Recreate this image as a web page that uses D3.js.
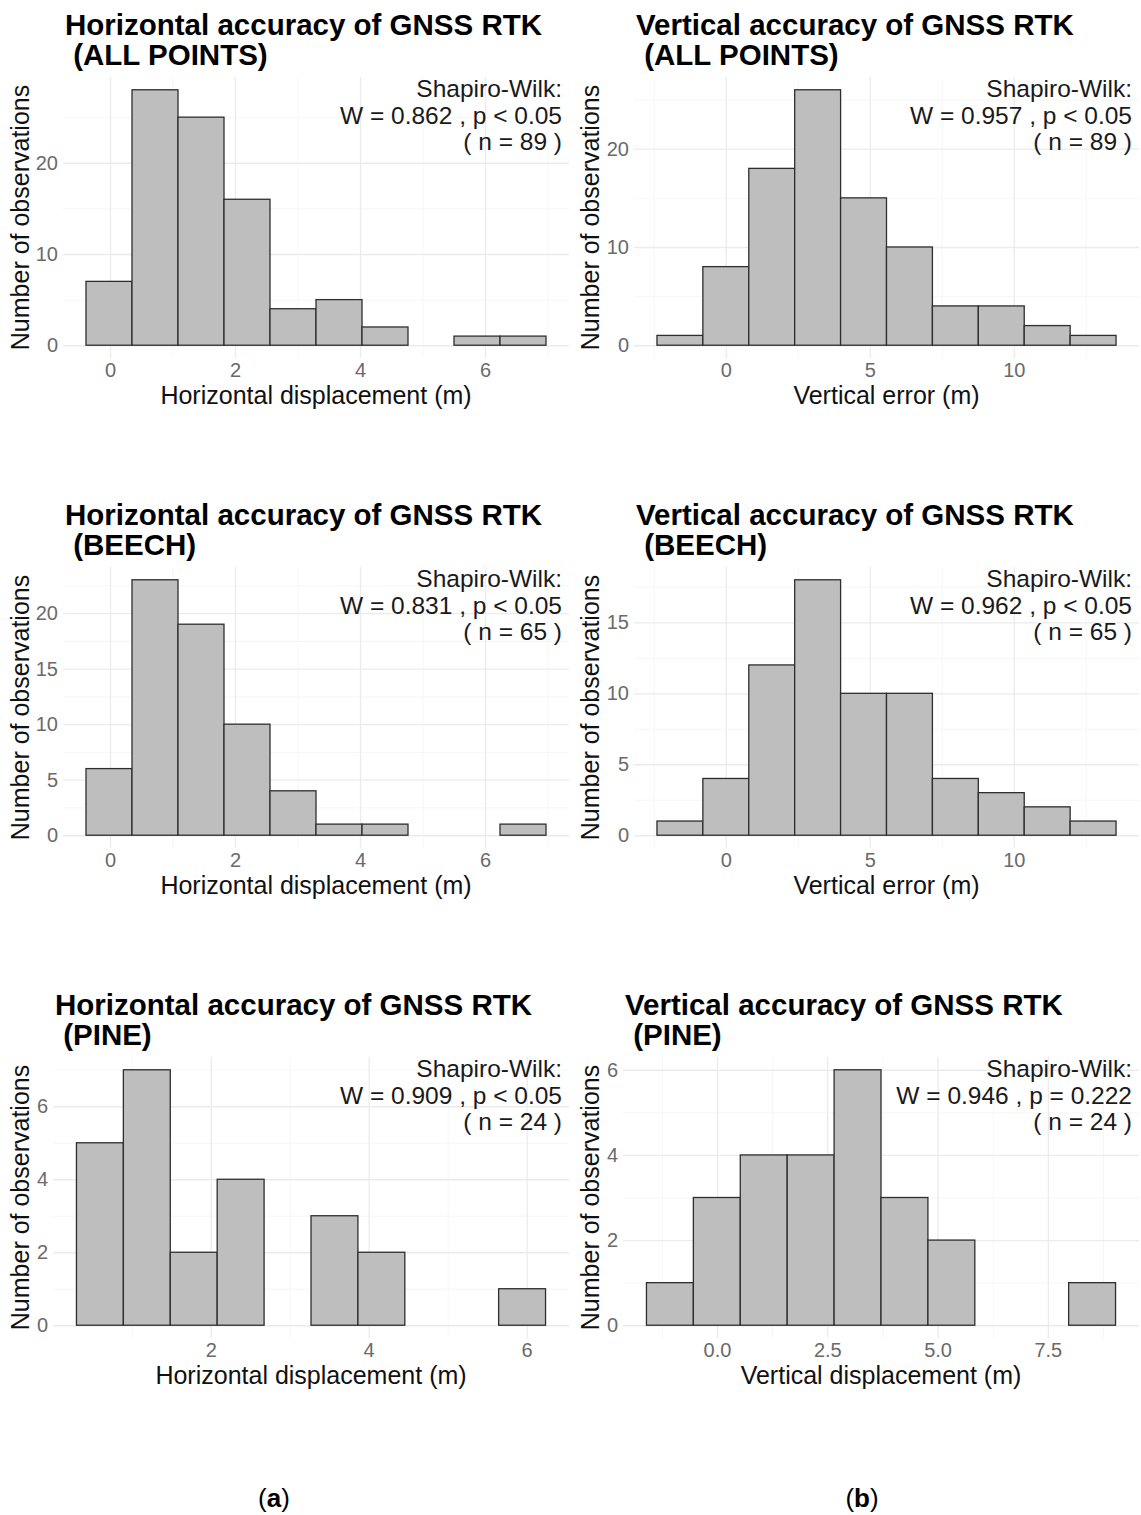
<!DOCTYPE html>
<html>
<head>
<meta charset="utf-8">
<script src="https://cdn.jsdelivr.net/npm/d3@7"></script>
<style>
  body { margin: 0; background: #fff; }
  text { font-family: "Liberation Sans", Arial, Helvetica, sans-serif; }
</style>
</head>
<body>
<svg id="chart" width="1141" height="1515"></svg>
<script>
// counts per histogram bin (10 bins each)
const hAllCounts   = [7, 28, 25, 16, 4, 5, 2, 0, 1, 1];
const vAllCounts   = [1, 8, 18, 26, 15, 10, 4, 4, 2, 1];
const hBeechCounts = [6, 23, 19, 10, 4, 1, 1, 0, 0, 1];
const vBeechCounts = [1, 4, 12, 18, 10, 10, 4, 3, 2, 1];
const hPineCounts  = [5, 7, 2, 4, 0, 3, 2, 0, 0, 1];
const vPineCounts  = [1, 3, 4, 4, 6, 3, 2, 0, 0, 1];

// first bin edge and bin width (m)
const hAllBins   = [-0.384, 0.736];
const vAllBins   = [-2.39, 1.594];
const hBeechBins = [-0.384, 0.736];
const vBeechBins = [-2.39, 1.594];
const hPineBins  = [0.30, 0.594];
const vPineBins  = [-1.60, 1.0635];

// tick labels
const hXTicks = [0, 2, 4, 6];
const vXTicks = [0, 5, 10];
const hPineXTicks = [2, 4, 6];
const vPineXTicks = [0, 2.5, 5, 7.5];
const yTicksAll = [0, 10, 20];
const yTicksHBeech = [0, 5, 10, 15, 20];
const yTicksVBeech = [0, 5, 10, 15];
const yTicksPine = [0, 2, 4, 6];

// texts
const groups = ["ALL POINTS", "BEECH", "PINE"];
const wValues = ["0.862", "0.957", "0.831", "0.962", "0.909", "0.946"];
const pValues = ["p < 0.05", "p < 0.05", "p < 0.05", "p < 0.05", "p < 0.05", "p = 0.222"];
const nValues = [89, 89, 65, 65, 24, 24];

const svg = d3.select("#chart");
svg.append("rect").attr("width", 1141).attr("height", 1515).attr("fill", "#fff");

const panels = [
  {counts: hAllCounts, bins: hAllBins, xTicks: hXTicks, yTicks: yTicksAll, kind: "H", row: 0, col: 0, left: 63, xlab: "Horizontal displacement (m)", fmt: d3.format("d")},
  {counts: vAllCounts, bins: vAllBins, xTicks: vXTicks, yTicks: yTicksAll, kind: "V", row: 0, col: 1, left: 64, xlab: "Vertical error (m)", fmt: d3.format("d")},
  {counts: hBeechCounts, bins: hBeechBins, xTicks: hXTicks, yTicks: yTicksHBeech, kind: "H", row: 1, col: 0, left: 63, xlab: "Horizontal displacement (m)", fmt: d3.format("d")},
  {counts: vBeechCounts, bins: vBeechBins, xTicks: vXTicks, yTicks: yTicksVBeech, kind: "V", row: 1, col: 1, left: 64, xlab: "Vertical error (m)", fmt: d3.format("d")},
  {counts: hPineCounts, bins: hPineBins, xTicks: hPineXTicks, yTicks: yTicksPine, kind: "H", row: 2, col: 0, left: 53, xlab: "Horizontal displacement (m)", fmt: d3.format("d")},
  {counts: vPineCounts, bins: vPineBins, xTicks: vPineXTicks, yTicks: yTicksPine, kind: "V", row: 2, col: 1, left: 53, xlab: "Vertical displacement (m)", fmt: d3.format(".1f")}
];

const panelTop = 77, panelBottom = 358, panelRight = 569;

function minorOf(ticks, domain) {
  const step = ticks.length > 1 ? ticks[1] - ticks[0] : 1;
  const out = [];
  for (let v = ticks[0] - step / 2 - step * 3; v <= domain[1]; v += step) {
    if (v >= domain[0]) out.push(v);
  }
  return out;
}

panels.forEach((p, i) => {
  const g = svg.append("g").attr("transform", `translate(${p.col * 570},${p.row * 490})`);
  const lo = p.bins[0], w = p.bins[1], hi = lo + w * p.counts.length;
  const pad = (hi - lo) * 0.05;
  const x = d3.scaleLinear().domain([lo - pad, hi + pad]).range([p.left, panelRight]);
  const ymax = d3.max(p.counts);
  const y = d3.scaleLinear().domain([-ymax * 0.05, ymax * 1.05]).range([panelBottom, panelTop]);
  const ph = panelBottom - panelTop, pw = panelRight - p.left;

  // grid: minor then major
  const grid = g.append("g");
  grid.append("g").attr("transform", `translate(0,${panelBottom})`)
    .call(d3.axisBottom(x).tickValues(minorOf(p.xTicks, x.domain())).tickSize(-ph).tickFormat(""))
    .call(a => a.selectAll("line").attr("stroke", "#f2f2f2").attr("stroke-width", 0.7));
  grid.append("g").attr("transform", `translate(${p.left},0)`)
    .call(d3.axisLeft(y).tickValues(minorOf(p.yTicks, y.domain())).tickSize(-pw).tickFormat(""))
    .call(a => a.selectAll("line").attr("stroke", "#f2f2f2").attr("stroke-width", 0.7));
  grid.append("g").attr("transform", `translate(0,${panelBottom})`)
    .call(d3.axisBottom(x).tickValues(p.xTicks).tickSize(-ph).tickFormat(""))
    .call(a => a.selectAll("line").attr("stroke", "#ebebeb").attr("stroke-width", 1.3));
  grid.append("g").attr("transform", `translate(${p.left},0)`)
    .call(d3.axisLeft(y).tickValues(p.yTicks).tickSize(-pw).tickFormat(""))
    .call(a => a.selectAll("line").attr("stroke", "#ebebeb").attr("stroke-width", 1.3));
  grid.selectAll(".domain").remove();

  // bars
  g.append("g").selectAll("rect")
    .data(p.counts)
    .join("rect")
    .attr("x", (d, k) => x(lo + k * w))
    .attr("width", x(lo + w) - x(lo))
    .attr("y", d => y(d))
    .attr("height", d => y(0) - y(d))
    .attr("fill", "#bebebe")
    .attr("stroke", "#2e2e2e")
    .attr("stroke-width", 1.3);

  // axes labels
  const xa = g.append("g").attr("transform", `translate(0,${panelBottom})`)
    .call(d3.axisBottom(x).tickValues(p.xTicks).tickSize(0).tickPadding(5).tickFormat(p.fmt));
  const ya = g.append("g").attr("transform", `translate(${p.left},0)`)
    .call(d3.axisLeft(y).tickValues(p.yTicks).tickSize(0).tickPadding(5).tickFormat(d3.format("d")));
  [xa, ya].forEach(a => {
    a.select(".domain").remove();
    a.attr("font-size", null).attr("font-family", null);
    a.selectAll("text").style("font-size", "20px").attr("fill", "#6a6a6a")
      .style("font-family", '"Liberation Sans", Arial, sans-serif');
  });

  g.append("text")
    .attr("x", (p.left + panelRight) / 2).attr("y", 404)
    .attr("text-anchor", "middle").attr("font-size", 25).attr("fill", "#111")
    .text(p.xlab);
  g.append("text")
    .attr("transform", `translate(29,${(panelTop + panelBottom) / 2}) rotate(-90)`)
    .attr("text-anchor", "middle").attr("font-size", 25).attr("fill", "#111")
    .text("Number of observations");

  // title
  const title = g.append("text").attr("font-size", 29.5).attr("font-weight", "bold").attr("fill", "#000")
    .style("white-space", "pre");
  title.append("tspan").attr("x", p.left + 2).attr("y", 35)
    .text((p.kind === "H" ? "Horizontal" : "Vertical") + " accuracy of GNSS RTK");
  title.append("tspan").attr("x", p.left + 2).attr("y", 65)
    .text(" (" + groups[p.row] + ")");

  // Shapiro-Wilk annotation
  const ann = g.append("text").attr("font-size", 24.5).attr("fill", "#1a1a1a").attr("text-anchor", "end")
    .style("white-space", "pre");
  const ax = panelRight - 7;
  ann.append("tspan").attr("x", ax).attr("y", 97).text("Shapiro-Wilk:");
  ann.append("tspan").attr("x", ax).attr("y", 123.5).text("W = " + wValues[i] + " , " + pValues[i]);
  ann.append("tspan").attr("x", ax).attr("y", 150).text("( n = " + nValues[i] + " )");
});

// sub-figure letters
[["a", 274], ["b", 862]].forEach(([l, cx]) => {
  const t = svg.append("text").attr("x", cx).attr("y", 1507).attr("text-anchor", "middle")
    .attr("font-size", 26).attr("font-family", '"Liberation Serif", "DejaVu Serif", serif').attr("fill", "#000");
  t.append("tspan").text("(");
  t.append("tspan").attr("font-weight", "bold").text(l);
  t.append("tspan").text(")");
});
</script>
</body>
</html>
